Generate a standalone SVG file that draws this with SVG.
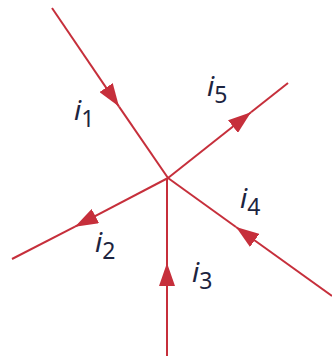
<svg xmlns="http://www.w3.org/2000/svg" width="332" height="356" viewBox="0 0 332 356">
<style>
.w{stroke:#c62f3b;stroke-width:2;fill:none}
.lbl{font-family:"Noto Sans","DejaVu Sans",sans-serif;font-size:28px;fill:#1c2440}
.v{font-style:italic}
.s{font-size:23px}
</style>
<defs>
<marker id="ah" viewBox="-23 -8 23 16" refX="0" refY="0" markerWidth="23" markerHeight="16" markerUnits="userSpaceOnUse" orient="auto">
<path d="M0,0 L-23,-8 L-23,8 Z" fill="#c62f3b"/>
</marker>
</defs>
<rect width="332" height="356" fill="#fff"/>
<g id="connectors">
<path class="w" d="M52,8 L119,106.6" marker-end="url(#ah)"/>
<path class="w" d="M119,106.6 L168,178"/>
<path class="w" d="M168,178 L251,112.3" marker-end="url(#ah)"/>
<path class="w" d="M251,112.3 L288,83"/>
<path class="w" d="M168,178 L75,226.7" marker-end="url(#ah)"/>
<path class="w" d="M75,226.7 L12,259"/>
<path class="w" d="M167,356 L167,263" marker-end="url(#ah)"/>
<path class="w" d="M167,263 L167,178"/>
<path class="w" d="M332,296 L236,227" marker-end="url(#ah)"/>
<path class="w" d="M236,227 L168,178"/>
</g>
<g id="i1"><text class="lbl" x="74" y="120"><tspan class="v">i</tspan><tspan class="s" dy="7">1</tspan></text></g>
<g id="i5"><text class="lbl" x="207" y="96"><tspan class="v">i</tspan><tspan class="s" dy="7">5</tspan></text></g>
<g id="i4"><text class="lbl" x="240" y="208"><tspan class="v">i</tspan><tspan class="s" dy="7">4</tspan></text></g>
<g id="i2"><text class="lbl" x="95" y="252"><tspan class="v">i</tspan><tspan class="s" dy="7">2</tspan></text></g>
<g id="i3"><text class="lbl" x="192" y="282"><tspan class="v">i</tspan><tspan class="s" dy="7">3</tspan></text></g>
</svg>
